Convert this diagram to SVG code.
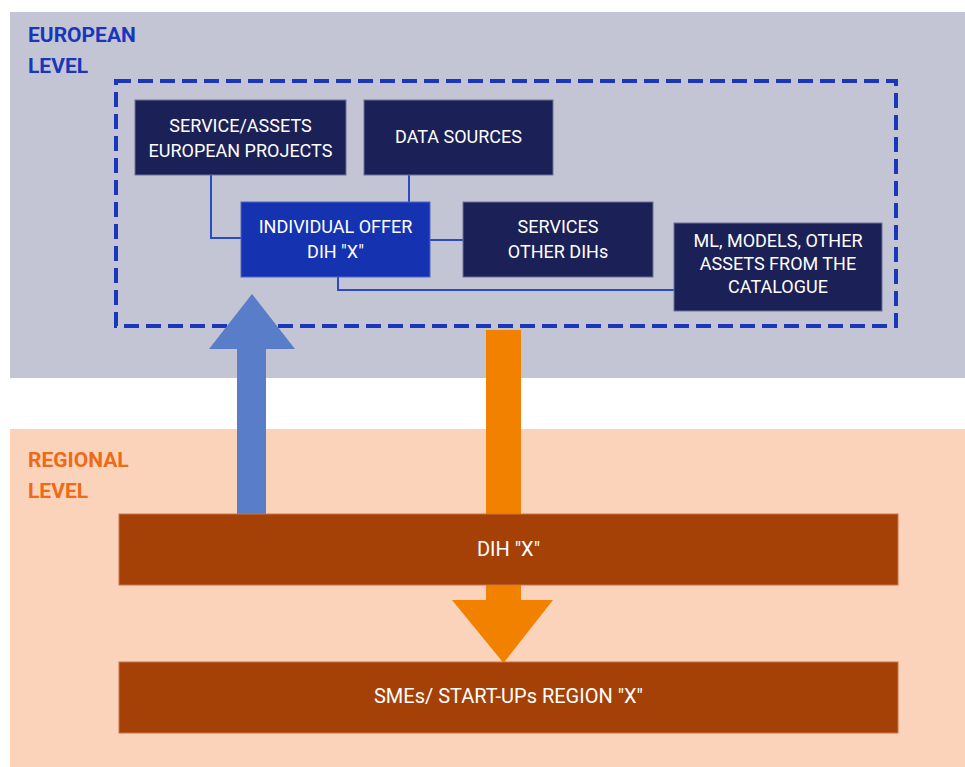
<svg xmlns="http://www.w3.org/2000/svg" width="965" height="767" viewBox="0 0 965 767">
<style>
.lvl{font-family:Roboto,"Liberation Sans",sans-serif;font-weight:bold;font-size:21px}
.t{font-family:Roboto,"Liberation Sans",sans-serif;font-size:18px;fill:#ffffff;text-anchor:middle}
.tb{font-family:Roboto,"Liberation Sans",sans-serif;font-size:20px;fill:#ffffff;text-anchor:middle}
.navy{fill:#1b2157;stroke:#6d7299;stroke-width:1}
.conn{fill:none;stroke:#2a4bc4;stroke-width:2}
.bar{fill:#a54106;stroke:#c8754a;stroke-width:1}
</style>
<rect width="965" height="767" fill="#ffffff"/>
<g id="european-level">
<rect x="10" y="12" width="955" height="366" fill="#c3c5d5"/>
<text class="lvl" x="28" y="42" fill="#1a36b9">EUROPEAN</text>
<text class="lvl" x="28" y="73" fill="#1a36b9">LEVEL</text>
</g>
<g id="regional-level">
<rect x="10" y="429" width="955" height="338" fill="#fbd3bb"/>
<text class="lvl" x="28" y="467" fill="#ee6a16">REGIONAL</text>
<text class="lvl" x="28" y="498" fill="#ee6a16">LEVEL</text>
</g>
<g id="catalogue-frame">
<rect x="116" y="81" width="780" height="245" fill="none" stroke="#1a36b9" stroke-width="4" stroke-dasharray="15 7"/>
</g>
<g id="arrows">
<path d="M486 330 H521 V600 H553 L503.5 663 L452 600 H486 Z" fill="#f28100"/>
<path d="M237 514 V349 H209 L252 294 L295 349 H266 V514 Z" fill="#5a7dca"/>
</g>
<g id="connectors">
<path class="conn" d="M211 175 V238 H241"/>
<path class="conn" d="M409 175 V202"/>
<path class="conn" d="M430 240 H463"/>
<path class="conn" d="M338 277 V290 H674"/>
</g>
<g id="service-assets">
<rect class="navy" x="135" y="100" width="211" height="75"/>
<text class="t" x="240.5" y="132">SERVICE/ASSETS</text>
<text class="t" x="240.5" y="157">EUROPEAN PROJECTS</text>
</g>
<g id="data-sources">
<rect class="navy" x="364" y="100" width="189" height="75"/>
<text class="t" x="458.5" y="143">DATA SOURCES</text>
</g>
<g id="individual-offer">
<rect x="241" y="202" width="189" height="75" fill="#1533b1" stroke="#4f66c6" stroke-width="1"/>
<text class="t" x="335.5" y="233">INDIVIDUAL OFFER</text>
<text class="t" x="335.5" y="258">DIH "X"</text>
</g>
<g id="services-other-dihs">
<rect class="navy" x="463" y="202" width="190" height="75"/>
<text class="t" x="558" y="233">SERVICES</text>
<text class="t" x="558" y="258">OTHER DIHs</text>
</g>
<g id="ml-models">
<rect class="navy" x="674" y="223" width="208" height="88"/>
<text class="t" x="778" y="247">ML, MODELS, OTHER</text>
<text class="t" x="778" y="270">ASSETS FROM THE</text>
<text class="t" x="778" y="293">CATALOGUE</text>
</g>
<g id="dih-x">
<rect class="bar" x="119" y="514" width="779" height="71"/>
<text class="tb" x="508.5" y="556">DIH "X"</text>
</g>
<g id="smes">
<rect class="bar" x="119" y="662" width="779" height="71"/>
<text class="tb" x="508.5" y="703">SMEs/ START-UPs REGION "X"</text>
</g>
</svg>
